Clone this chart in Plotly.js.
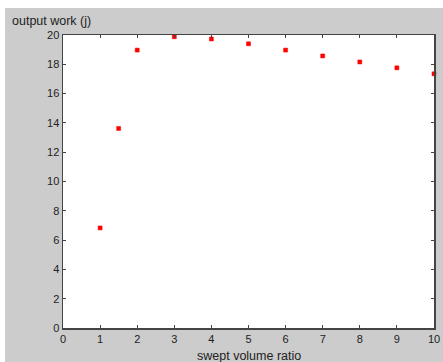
<!DOCTYPE html>
<html><head><meta charset="utf-8">
<script src="https://cdn.plot.ly/plotly-3.0.1.min.js"></script>
<style>html,body{margin:0;padding:0;background:#fff;width:443px;height:362px;overflow:hidden}
#plot{position:absolute;left:5px;top:8px;width:438px;height:354px}</style>
</head><body><div id="plot"></div>
<script>
const sweptVolumeRatio = [1, 1.5, 2, 3, 4, 5, 6, 7, 8, 9, 10];
const outputWork = [6.83, 13.62, 18.97, 19.88, 19.73, 19.4, 18.97, 18.57, 18.16, 17.76, 17.35];
const xTicks = [0,1,2,3,4,5,6,7,8,9,10];
const yTicks = [0,2,4,6,8,10,12,14,16,18,20];
const xTitle = 'swept volume ratio';
const yTitle = 'output work (j)';

const trace = {
  x: sweptVolumeRatio, y: outputWork, mode: 'markers', type: 'scatter',
  marker: {symbol: 'square', size: 4, color: 'red', line: {color: 'red', width: 0.5}},
  cliponaxis: false, hoverinfo: 'none'
};
const axisCommon = {
  showgrid: false, zeroline: false, showline: true, mirror: 'ticks',
  linecolor: '#444', linewidth: 1.5, ticks: 'inside', ticklen: 3, tickcolor: '#444', tickwidth: 1,
  tickfont: {family: 'Liberation Sans, Arial, sans-serif', size: 11, color: '#222'}
};
const titleFont = {family: 'Liberation Sans, Arial, sans-serif', size: 12.5, color: '#222'};
const layout = {
  width: 438, height: 354,
  paper_bgcolor: '#cccccc', plot_bgcolor: '#ffffff',
  margin: {l: 58, r: 9, t: 27, b: 34},
  showlegend: false,
  xaxis: Object.assign({}, axisCommon, {range: [0, 10], tickvals: xTicks, ticktext: xTicks.map(String)}),
  yaxis: Object.assign({}, axisCommon, {range: [0, 20], tickvals: yTicks, ticktext: yTicks.map(String)}),
  annotations: [
    {text: yTitle, xref: 'paper', yref: 'paper', x: -0.143, y: 1.0, yshift: 5,
     xanchor: 'left', yanchor: 'bottom', showarrow: false, font: titleFont},
    {text: xTitle, xref: 'paper', yref: 'paper', x: 0.5, y: -0.096,
     xanchor: 'center', yanchor: 'middle', showarrow: false, font: titleFont}
  ]
};
Plotly.newPlot('plot', [trace], layout, {displayModeBar: false, staticPlot: true});
</script></body></html>
